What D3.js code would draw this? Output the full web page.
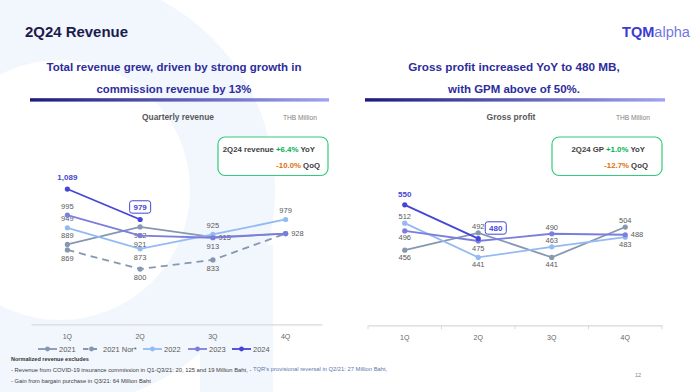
<!DOCTYPE html>
<html><head><meta charset="utf-8">
<script src="https://cdn.jsdelivr.net/npm/d3@7"></script>
<style>
html,body{margin:0;padding:0;background:#fff;overflow:hidden;}
svg{display:block;font-family:"Liberation Sans",Arial,sans-serif;}
</style></head><body>
<svg id="c" width="693" height="392"></svg>
<script>
// ---------- data ----------
const quarters = ["1Q","2Q","3Q","4Q"];
const seriesNames = ["2021","2021 Nor*","2022","2023","2024"];
const rev2021    = [889, 952, 915, 928];
const rev2021Nor = [869, 800, 833, 928];
const rev2022    = [949, 873, 925, 979];
const rev2023    = [995, 921, 913, 928];
const rev2024    = [1089, 979];
const gp2021 = [456, 492, 441, 504];
const gp2022 = [512, 441, 463, 483];
const gp2023 = [496, 475, 490, 488];
const gp2024 = [550, 480];
// label placement keywords: a=above, b=below, r=right, n=none, h=bold highlight, k=boxed above, kr=boxed upper-right
const revLab2021    = ["a","b","r","n"];
const revLab2021Nor = ["b","b","b","r"];
const revLab2022    = ["a","b","a","a"];
const revLab2023    = ["a","b","b","n"];
const revLab2024    = ["h","k"];
const gpLab2021 = ["b","a","b","a"];
const gpLab2022 = ["a","b","a","b"];
const gpLab2023 = ["b","b","a","r"];
const gpLab2024 = ["h","kr"];

const colors = {"2021":"#8597b1","2021 Nor*":"#8597b1","2022":"#93bbf2","2023":"#7b7edd","2024":"#4646d6"};
const FONT = '"Liberation Sans", Arial, sans-serif';
const svg = d3.select("#c");

// ---------- background decoration ----------
const bg = svg.append("g");
const ringPath = d3.path();
ringPath.arc(60,190,215,0,Math.PI*2); ringPath.closePath();
ringPath.moveTo(60+130,190); ringPath.arc(60,190,130,0,Math.PI*2); ringPath.closePath();
bg.append("path").attr("d", ringPath.toString()).attr("fill","#f2f6fd").attr("fill-rule","evenodd");
bg.append("path").attr("d","M200,245 L273,245 L273,392 L200,392 Z").attr("fill","#f2f6fd");

function fit(sel, w){
  const len = sel.node().getComputedTextLength();
  const fs = parseFloat(sel.attr("font-size"));
  sel.attr("font-size", fs*w/len);
  return sel;
}

// ---------- header ----------
fit(svg.append("text").attr("x",25).attr("y",36.5).attr("font-size",15).attr("font-weight","bold")
  .attr("fill","#1c1c4c").text("2Q24 Revenue"),103);

const logo = svg.append("text").attr("x",622).attr("y",37).attr("font-size",13.5);
logo.append("tspan").attr("font-weight","bold").attr("fill","#3b3bd2").text("TQM");
logo.append("tspan").attr("fill","#7478e2").text("alpha");
fit(logo,68);

const subColor = "#2d2d9c";
function subtitle(lines, cx, widths){
  lines.forEach((t,i)=>{
    fit(svg.append("text").attr("x",cx).attr("y",71+i*22).attr("text-anchor","middle")
      .attr("font-size",11).attr("font-weight","bold").attr("fill",subColor).text(t), widths[i]);
  });
}
subtitle(["Total revenue grew, driven by strong growth in","commission revenue by 13%"],174,[255,155]);
subtitle(["Gross profit increased YoY to 480 MB,","with GPM above of 50%."],514,[212,132]);

const defs = svg.append("defs");
const grad = defs.append("linearGradient").attr("id","bar");
grad.append("stop").attr("offset","0%").attr("stop-color","#1b1b80");
grad.append("stop").attr("offset","100%").attr("stop-color","#a0a4ee");
svg.append("rect").attr("x",30).attr("y",98.2).attr("width",299).attr("height",3.4).attr("fill","url(#bar)");
svg.append("rect").attr("x",365).attr("y",98.2).attr("width",300).attr("height",3.4).attr("fill","url(#bar)");

// ---------- chart titles / unit ----------
function chartTitle(t, cx, unitX, w){
  fit(svg.append("text").attr("x",cx).attr("y",119.5).attr("text-anchor","middle").attr("font-size",8)
    .attr("font-weight","bold").attr("fill","#595959").text(t), w);
  fit(svg.append("text").attr("x",unitX).attr("y",119.5).attr("font-size",6.5).attr("fill","#808080").text("THB Million"),34);
}
chartTitle("Quarterly revenue",178,283,72);
chartTitle("Gross profit",511,616,49);

// ---------- green boxes ----------
function kpiBox(x0, w, label, yoy, qoq, r1, r2){
  svg.append("rect").attr("x",x0).attr("y",137).attr("width",w).attr("height",38.5).attr("rx",7)
    .attr("fill","#fff").attr("stroke","#33cc7a").attr("stroke-width",1.2);
  const t1 = svg.append("text").attr("x",r1).attr("y",152).attr("text-anchor","end").attr("font-size",7.8).attr("font-weight","bold");
  t1.append("tspan").attr("fill","#404040").text(label+" ");
  t1.append("tspan").attr("fill","#00b050").text(yoy);
  t1.append("tspan").attr("fill","#404040").text(" YoY");
  const t2 = svg.append("text").attr("x",r2).attr("y",167.5).attr("text-anchor","end").attr("font-size",7.8).attr("font-weight","bold");
  t2.append("tspan").attr("fill","#e46c0a").text(qoq);
  t2.append("tspan").attr("fill","#404040").text(" QoQ");
}
kpiBox(218,110,"2Q24 revenue","+6.4%","-10.0%",315,320);
kpiBox(552,110,"2Q24 GP","+1.0%","-12.7%",645,648);

// ---------- charts ----------
const fmt = d3.format(",");
function drawChart(cfg){
  const g = svg.append("g");
  const x = d3.scaleBand().domain(quarters).range(cfg.xRange);
  const cx = q => x(q) + x.bandwidth()/2;
  const y = d3.scaleLinear().domain(cfg.yDomain).range(cfg.yRange);
  const axisY = y(cfg.yDomain[0]);
  const ax = g.append("g").attr("transform",`translate(0,${axisY})`)
    .call(d3.axisBottom(x).tickSize(0).tickPadding(10));
  ax.attr("font-family",FONT);
  ax.select(".domain").attr("stroke","#d9d9d9").attr("stroke-width",1.2);
  ax.selectAll("text").attr("fill","#666").attr("font-size",7);
  if (cfg.boundaryTicks){
    const bounds = quarters.map(q=>x(q)).concat([cfg.xRange[1]]);
    g.selectAll(".bt").data(bounds).join("line").attr("x1",d=>d).attr("x2",d=>d)
      .attr("y1",axisY).attr("y2",axisY+4).attr("stroke","#d9d9d9").attr("stroke-width",1);
  }
  cfg.series.forEach(s=>{
    const pts = s.values.map((v,i)=>({q:quarters[i], v, pos:s.labels[i]}));
    const col = colors[s.name];
    g.append("path").datum(pts).attr("fill","none").attr("stroke",col).attr("stroke-width",1.8)
      .attr("stroke-dasharray", s.dashed ? "7,5" : null)
      .attr("d", d3.line().x(d=>cx(d.q)).y(d=>y(d.v)));
    g.selectAll(null).data(pts).join("circle").attr("cx",d=>cx(d.q)).attr("cy",d=>y(d.v)).attr("r",2.6).attr("fill",col);
    pts.forEach(d=>{
      const px = cx(d.q), py = y(d.v);
      if (d.pos==="n") return;
      if (d.pos==="h"){
        g.append("text").attr("x",px).attr("y",py-cfg.hiOff).attr("text-anchor","middle").attr("font-size",8)
          .attr("font-weight","bold").attr("fill",colors["2024"]).text(fmt(d.v));
        return;
      }
      if (d.pos==="k" || d.pos==="kr"){
        const bx = d.pos==="k" ? px : px+17.5;
        const by = d.pos==="k" ? py-12.5 : py-10.6;
        g.append("rect").attr("x",bx-10.5).attr("y",by-6.2).attr("width",21).attr("height",12.4).attr("rx",2.5)
          .attr("fill","#fff").attr("stroke",colors["2024"]).attr("stroke-width",1);
        g.append("text").attr("x",bx).attr("y",by+2.8).attr("text-anchor","middle").attr("font-size",8)
          .attr("font-weight","bold").attr("fill",colors["2024"]).text(fmt(d.v));
        return;
      }
      const t = g.append("text").attr("font-size",7.5).attr("fill","#595959").text(fmt(d.v));
      if (d.pos==="a") t.attr("x",px).attr("y",py-cfg.aOff).attr("text-anchor","middle");
      else if (d.pos==="b") t.attr("x",px).attr("y",py+cfg.bOff).attr("text-anchor","middle");
      else if (d.pos==="r") t.attr("x",px+5.5).attr("y",py+2.5).attr("text-anchor","start");
    });
  });
}

drawChart({
  xRange:[31,322], yDomain:[600,1200], yRange:[324.4,158.3], aOff:6.3, bOff:11, hiOff:9, boundaryTicks:false,
  series:[
    {name:"2021", values:rev2021, labels:revLab2021},
    {name:"2021 Nor*", values:rev2021Nor, labels:revLab2021Nor, dashed:true},
    {name:"2022", values:rev2022, labels:revLab2022},
    {name:"2023", values:rev2023, labels:revLab2023},
    {name:"2024", values:rev2024, labels:revLab2024}
  ]
});
drawChart({
  xRange:[368,662], yDomain:[300,650], yRange:[325.3,156.7], aOff:4, bOff:9.5, hiOff:7.5, boundaryTicks:true,
  series:[
    {name:"2021", values:gp2021, labels:gpLab2021},
    {name:"2022", values:gp2022, labels:gpLab2022},
    {name:"2023", values:gp2023, labels:gpLab2023},
    {name:"2024", values:gp2024, labels:gpLab2024}
  ]
});

// ---------- legend ----------
const legendStarts = [38,83,143,188,232];
const lg = svg.append("g");
seriesNames.forEach((n,i)=>{
  const x0 = legendStarts[i], col = colors[n];
  const dashed = n==="2021 Nor*";
  lg.append("line").attr("x1",x0).attr("x2",x0+(dashed?17:19)).attr("y1",349).attr("y2",349).attr("stroke",col).attr("stroke-width",1.8)
    .attr("stroke-dasharray", dashed ? "5.5,3" : null);
  lg.append("circle").attr("cx",x0+(dashed?8.5:9.5)).attr("cy",349).attr("r",2.4).attr("fill",col);
  lg.append("text").attr("x",x0+(dashed?20:21)).attr("y",351.8).attr("font-size",7.5).attr("fill","#595959").text(n);
});

// ---------- footnotes ----------
fit(svg.append("text").attr("x",11).attr("y",361).attr("font-size",6).attr("font-weight","bold").attr("fill","#333")
  .text("Normalized revenue excludes"),78);
fit(svg.append("text").attr("x",11).attr("y",372).attr("font-size",5.6).attr("fill","#404040")
  .text("- Revenue from COVID-19 insurance commission in Q1-Q3/21: 20, 125 and 19 Million Baht,  -"),241);
fit(svg.append("text").attr("x",253).attr("y",371).attr("font-size",5.2).attr("fill","#5a78ad")
  .text("TQR's provisional reversal in Q2/21: 27 Million Baht,"),134);
fit(svg.append("text").attr("x",11).attr("y",382.5).attr("font-size",5.6).attr("fill","#404040")
  .text("- Gain from bargain purchase in Q3/21: 64 Million Baht"),140);
svg.append("text").attr("x",638).attr("y",377).attr("text-anchor","middle").attr("font-size",5.5).attr("fill","#808080").text("12");
</script>
</body></html>
